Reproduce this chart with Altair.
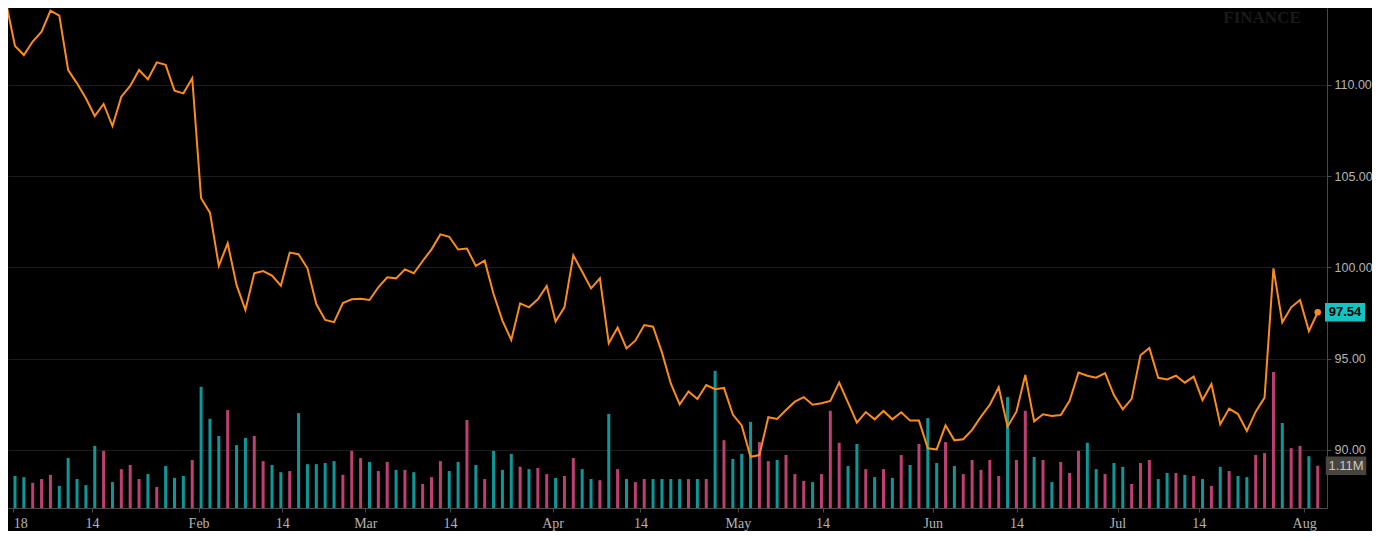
import json
import altair as alt
import pandas as pd

# ---- data (index = trading-day position) ----
# closing prices, first value is the session before the first visible bar
prices = [
    114.50,
    112.14, 111.64, 112.38, 112.92, 114.07, 113.80, 110.82, 110.09, 109.27, 108.30,
    108.96, 107.75, 109.36, 109.95, 110.82, 110.31, 111.24, 111.10, 109.69, 109.54,
    110.37, 103.79, 103.00, 100.09, 101.32, 99.04, 97.66, 99.68, 99.80, 99.55,
    99.00, 100.81, 100.72, 99.95, 97.99, 97.12, 97.00, 98.05, 98.25, 98.28,
    98.21, 98.91, 99.46, 99.40, 99.89, 99.68, 100.35, 100.99, 101.81, 101.68,
    100.98, 101.03, 100.08, 100.37, 98.54, 97.08, 96.02, 98.03, 97.81, 98.25,
    98.98, 97.03, 97.81, 100.66, 99.76, 98.85, 99.40, 95.84, 96.70, 95.56,
    95.98, 96.84, 96.75, 95.34, 93.64, 92.49, 93.20, 92.78, 93.55, 93.32,
    93.39, 91.93, 91.34, 89.62, 89.71, 91.79, 91.69, 92.18, 92.64, 92.89,
    92.47, 92.55, 92.68, 93.68, 92.59, 91.49, 92.07, 91.67, 92.13, 91.67,
    92.06, 91.60, 91.60, 90.08, 90.02, 91.34, 90.52, 90.58, 91.09, 91.82,
    92.47, 93.43, 91.27, 92.09, 94.10, 91.56, 91.95, 91.85, 91.91, 92.69,
    94.23, 94.06, 93.95, 94.20, 93.00, 92.22, 92.79, 95.18, 95.58, 93.95,
    93.86, 94.06, 93.68, 94.01, 92.73, 93.61, 91.40, 92.26, 91.96, 91.03,
    92.09, 92.86, 99.95, 96.99, 97.81, 98.21, 96.51, 97.54,
]

# volume in millions, one per visible bar
volumes = [
    0.84, 0.81, 0.66, 0.76, 0.87, 0.58, 1.31, 0.76, 0.60, 1.63,
    1.50, 0.68, 1.02, 1.13, 0.76, 0.89, 0.55, 1.10, 0.79, 0.84,
    1.26, 3.18, 2.34, 1.89, 2.57, 1.65, 1.84, 1.89, 1.23, 1.13,
    0.94, 0.97, 2.49, 1.15, 1.15, 1.18, 1.23, 0.87, 1.50, 1.31,
    1.21, 0.97, 1.21, 1.00, 1.00, 0.94, 0.63, 0.81, 1.23, 0.97,
    1.21, 2.31, 1.13, 0.76, 1.50, 1.00, 1.42, 1.08, 1.02, 1.05,
    0.89, 0.79, 0.84, 1.31, 1.02, 0.76, 0.73, 2.47, 1.02, 0.76,
    0.68, 0.76, 0.76, 0.76, 0.76, 0.76, 0.76, 0.76, 0.76, 3.60,
    1.78, 1.29, 1.42, 2.26, 1.73, 1.23, 1.26, 1.39, 0.89, 0.71,
    0.68, 0.89, 2.55, 1.71, 1.10, 1.68, 1.02, 0.81, 1.02, 0.79,
    1.39, 1.13, 1.68, 2.36, 1.18, 1.73, 1.10, 0.89, 1.26, 1.00,
    1.26, 0.84, 2.91, 1.26, 2.55, 1.34, 1.26, 0.68, 1.21, 0.92,
    1.50, 1.71, 1.02, 0.89, 1.18, 1.08, 0.63, 1.18, 1.26, 0.76,
    0.92, 0.92, 0.87, 0.84, 0.76, 0.58, 1.08, 0.97, 0.84, 0.81,
    1.39, 1.44, 3.57, 2.23, 1.57, 1.63, 1.36, 1.11,
]

# u = up bar (teal), d = down bar (pink)
vol_dir = (
    "u u d d d u u u u u "
    "d u d d d u d u u u "
    "d u u u d u u d d u "
    "u d u u u u u d d d "
    "u d d u d u d d d u "
    "u d u d u u u d u d "
    "d u d d u u d u d u "
    "d d u u u u d u d u "
    "d u u u d d u d d d "
    "u d d d u u d u d u "
    "d u d u u d u d d d "
    "d d u d d u d u d d "
    "d u u d u u d d d u "
    "u d u d u d u d u u "
    "d d d u d d u d"
).split()

# x-axis tick labels and their positions on the trading-day index
tick_text = ["18", "14", "Feb", "14", "Mar", "14", "Apr", "14",
             "May", "14", "Jun", "14", "Jul", "14", "Aug"]
tick_pos = [-0.2, 8.70, 20.72, 30.16, 39.53, 49.08, 60.66, 70.58,
            81.56, 91.12, 103.55, 113.02, 124.41, 133.56, 145.46]
price_ticks = [90, 95, 100, 105, 110]

# ---- styling ----
ORANGE = "#fb8c1c"
TEAL = "#0c9898"
PINK = "#bf3f72"
CYAN = "#14c4c0"
AXIS_GREY = "#4a4a4a"
LABEL_GREY = "#b4b4b4"
GRID = "#1c1c1c"
W, H = 1319, 500
BOX = "M-1,-0.46L1,-0.46L1,0.46L-1,0.46Z"

price_df = pd.DataFrame({"idx": list(range(-1, len(prices) - 1)), "price": prices})
vol_df = pd.DataFrame({"idx": list(range(len(volumes))), "vol": volumes,
                       "dir": ["up" if c == "u" else "down" for c in vol_dir]})
last_price = price_df.tail(1).assign(label=lambda d: d["price"].map(lambda v: f"{v:.2f}"))
last_vol = vol_df.tail(1).assign(label=lambda d: d["vol"].map(lambda v: f"{v:.2f}M"))

x_scale = alt.Scale(domain=[-0.224, 147.48], nice=False, zero=False)
price_scale = alt.Scale(domain=[86.81, 114.22], nice=False, zero=False)
vol_scale = alt.Scale(domain=[0, 13.12], nice=False, zero=True)

label_expr = f"{json.dumps(tick_text)}[indexof({json.dumps(tick_pos)}, datum.value)]"
x_axis = alt.Axis(
    values=tick_pos, labelExpr=label_expr, grid=False, title=None, orient="bottom",
    tickSize=4, labelPadding=4, labelFont="Liberation Serif", labelFontSize=14,
    labelColor=LABEL_GREY, domainColor=AXIS_GREY, tickColor=AXIS_GREY,
    labelFlush=False, labelOverlap=False,
    labelAlign={"condition": {"test": "datum.value < 0", "value": "left"}, "value": "center"},
)
y_axis = alt.Axis(
    orient="right", values=price_ticks, format=".2f", grid=True, gridColor=GRID,
    tickSize=4, labelPadding=3, labelFont="Liberation Sans", labelFontSize=12.5,
    labelColor=LABEL_GREY, domainColor=AXIS_GREY, tickColor=AXIS_GREY, title=None,
)

X = alt.X("idx:Q", scale=x_scale, axis=x_axis)

bars = alt.Chart(vol_df).mark_bar(orient="vertical", size=3, clip=True).encode(
    x=X,
    y=alt.Y("vol:Q", scale=vol_scale, axis=None, stack=None),
    color=alt.Color("dir:N", scale=alt.Scale(domain=["up", "down"], range=[TEAL, PINK]), legend=None),
)
vol_box = alt.Chart(last_vol).mark_point(shape=BOX, size=1640, filled=True, opacity=1,
                                         color="#48453f").encode(
    x=alt.value(W + 19), y=alt.Y("vol:Q", scale=vol_scale, axis=None))
vol_text = alt.Chart(last_vol).mark_text(font="Liberation Sans", fontSize=13, color="#c8c8c8",
                                         align="center", baseline="middle").encode(
    x=alt.value(W + 19), y=alt.Y("vol:Q", scale=vol_scale, axis=None), text="label:N")
vol_group = alt.layer(bars, vol_box, vol_text)

line = alt.Chart(price_df).mark_line(color=ORANGE, strokeWidth=2, clip=True).encode(
    x=X, y=alt.Y("price:Q", scale=price_scale, axis=y_axis))
dot = alt.Chart(last_price).mark_circle(size=42, color=ORANGE, opacity=1).encode(
    x=X, y=alt.Y("price:Q", scale=price_scale, axis=y_axis))
price_box = alt.Chart(last_price).mark_point(shape=BOX, size=1600, filled=True, opacity=1,
                                             color=CYAN).encode(
    x=alt.value(W + 18), y=alt.Y("price:Q", scale=price_scale, axis=y_axis))
price_text = alt.Chart(last_price).mark_text(font="Liberation Sans", fontSize=13, fontWeight="bold",
                                             color="#000000", align="center", baseline="middle").encode(
    x=alt.value(W + 18), y=alt.Y("price:Q", scale=price_scale, axis=y_axis), text="label:N")
watermark = alt.Chart(pd.DataFrame({"t": ["FINANCE"]})).mark_text(
    font="Liberation Serif", fontSize=17, fontWeight="bold", color="#1a1a1a",
    align="center", baseline="alphabetic").encode(
    x=alt.value(1254), y=alt.value(15), text="t:N")
price_group = alt.layer(watermark, line, dot, price_box, price_text)

chart = alt.layer(vol_group, price_group).resolve_scale(y="independent").properties(
    width=W, height=H,
    padding={"left": 0, "top": 0, "right": 45, "bottom": 23},
    autosize=alt.AutoSizeParams(type="none"),
    background="#000000",
).configure_view(stroke=None)

chart.save("out.html", embed_options={"renderer": "svg", "actions": False})
